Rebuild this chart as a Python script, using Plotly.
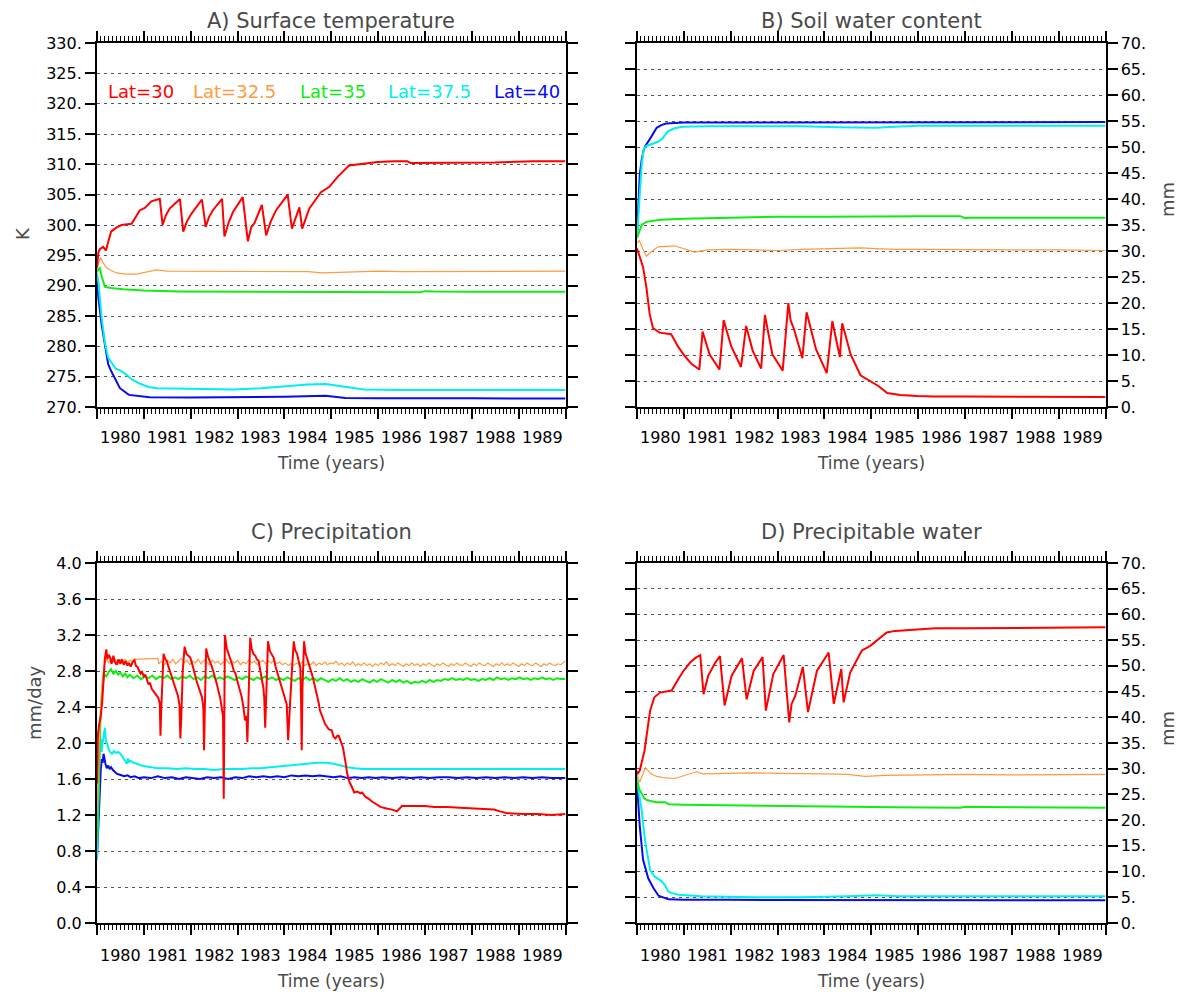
import plotly.graph_objects as go

FONT = "DejaVu Sans"

# ---------------- labels / styling lists ----------------
years = list(range(1980, 1990))
lat_labels = ["Lat=30", "Lat=32.5", "Lat=35", "Lat=37.5", "Lat=40"]
line_colors = ["#ff0000", "#ff9a40", "#10ee10", "#00f0f0", "#0a0aee"]
line_widths = [2.0, 1.2, 2.0, 2.0, 2.0]

titles = ["A) Surface temperature", "B) Soil water content", "C) Precipitation", "D) Precipitable water"]
ytitles = ["K", "mm", "mm/day", "mm"]

tick_A = list(range(270, 331, 5))
tick_A_text = [f"{v}." for v in tick_A]
tick_BD = list(range(0, 71, 5))
tick_BD_text = [f"{v}." for v in tick_BD]
tick_C = [0.0, 0.4, 0.8, 1.2, 1.6, 2.0, 2.4, 2.8, 3.2, 3.6, 4.0]
tick_C_text = ["0.0", "0.4", "0.8", "1.2", "1.6", "2.0", "2.4", "2.8", "3.2", "3.6", "4.0"]

# ---------------- A) Surface temperature (K) : (year, value) ----------------
tsfc_lat30 = [(1980.00, 293.0), (1980.03, 295.5), (1980.06, 296.0), (1980.13, 296.4), (1980.19, 295.8),
              (1980.25, 297.5), (1980.30, 298.9), (1980.42, 299.6), (1980.52, 300.0), (1980.74, 300.2),
              (1980.82, 301.3), (1980.91, 302.4), (1981.02, 302.8), (1981.16, 303.9), (1981.34, 304.3),
              (1981.40, 300.0), (1981.47, 301.6), (1981.55, 302.7), (1981.77, 304.3), (1981.84, 298.9),
              (1981.92, 300.6), (1982.01, 301.8), (1982.24, 304.2), (1982.32, 299.7), (1982.39, 301.3),
              (1982.47, 302.4), (1982.67, 304.3), (1982.72, 298.1), (1982.81, 300.4), (1982.90, 302.1),
              (1983.11, 304.6), (1983.22, 297.3), (1983.29, 299.6), (1983.36, 300.3), (1983.52, 303.3),
              (1983.61, 298.3), (1983.71, 300.6), (1983.82, 302.4), (1984.07, 305.0), (1984.16, 299.4),
              (1984.32, 302.9), (1984.38, 299.4), (1984.53, 302.7), (1984.78, 305.4), (1984.96, 306.3),
              (1985.13, 307.9), (1985.38, 309.8), (1985.63, 310.0), (1985.99, 310.4), (1986.34, 310.5),
              (1986.62, 310.5), (1986.70, 310.2), (1987.50, 310.2), (1988.50, 310.3), (1989.30, 310.5),
              (1990.00, 310.5)]
tsfc_lat32 = [(1980.00, 292.5), (1980.04, 294.0), (1980.08, 294.6), (1980.13, 293.8), (1980.20, 293.0),
              (1980.30, 292.5), (1980.42, 292.1), (1980.60, 291.9), (1980.84, 291.9), (1981.00, 292.2),
              (1981.27, 292.6), (1981.50, 292.4), (1982.00, 292.4), (1982.50, 292.3), (1983.00, 292.4),
              (1983.50, 292.3), (1984.00, 292.4), (1984.50, 292.3), (1984.81, 292.1), (1985.10, 292.2),
              (1985.50, 292.3), (1986.00, 292.4), (1986.50, 292.3), (1987.00, 292.3), (1987.50, 292.4),
              (1988.00, 292.3), (1988.50, 292.4), (1989.00, 292.4), (1989.50, 292.4), (1990.00, 292.4)]
tsfc_lat35 = [(1980.00, 292.2), (1980.03, 292.7), (1980.06, 292.9), (1980.10, 291.5), (1980.17, 289.8),
              (1980.30, 289.6), (1980.56, 289.4), (1981.00, 289.2), (1981.77, 289.05), (1983.00, 289.0),
              (1984.00, 289.0), (1985.00, 288.95), (1986.00, 288.95), (1986.90, 288.9), (1987.00, 289.1),
              (1987.20, 289.05), (1988.00, 289.0), (1989.00, 289.0), (1990.00, 289.0)]
tsfc_lat37 = [(1980.00, 292.0), (1980.03, 290.6), (1980.10, 284.7), (1980.17, 280.5), (1980.24, 278.1),
              (1980.31, 277.4), (1980.40, 276.3), (1980.50, 276.0), (1980.60, 275.5), (1980.75, 274.5),
              (1980.90, 273.9), (1981.10, 273.3), (1981.27, 273.1), (1982.00, 273.0), (1982.90, 272.9),
              (1983.50, 273.1), (1984.00, 273.4), (1984.50, 273.7), (1984.88, 273.8), (1985.20, 273.4),
              (1985.70, 272.9), (1986.50, 272.8), (1987.50, 272.8), (1988.50, 272.8), (1990.00, 272.8)]
tsfc_lat40 = [(1980.00, 291.5), (1980.03, 288.0), (1980.10, 283.5), (1980.17, 279.9), (1980.24, 277.0),
              (1980.31, 275.8), (1980.40, 274.5), (1980.49, 273.1), (1980.68, 272.0), (1981.12, 271.6),
              (1982.00, 271.55), (1983.00, 271.6), (1984.00, 271.7), (1984.88, 271.85), (1985.30, 271.5),
              (1986.00, 271.45), (1987.00, 271.5), (1988.00, 271.45), (1989.00, 271.4), (1990.00, 271.4)]

# ---------------- B) Soil water content (mm) ----------------
soilw_lat30 = [(1980.00, 30.5), (1980.04, 29.5), (1980.13, 26.9), (1980.20, 23.0), (1980.27, 17.9),
               (1980.34, 15.2), (1980.48, 14.3), (1980.73, 14.0), (1980.87, 11.7), (1981.01, 9.9),
               (1981.16, 8.3), (1981.33, 7.2), (1981.40, 14.5), (1981.55, 10.1), (1981.76, 7.2),
               (1981.85, 16.7), (1982.01, 11.7), (1982.22, 7.7), (1982.33, 15.6), (1982.47, 10.8),
               (1982.65, 7.4), (1982.73, 17.7), (1982.89, 10.1), (1983.11, 7.0), (1983.23, 20.0),
               (1983.28, 16.6), (1983.35, 15.0), (1983.53, 9.4), (1983.62, 18.2), (1983.82, 11.1),
               (1984.05, 6.5), (1984.17, 16.5), (1984.24, 13.4), (1984.33, 9.6), (1984.38, 16.1),
               (1984.56, 10.1), (1984.77, 6.1), (1984.99, 5.0), (1985.16, 4.0), (1985.34, 2.7),
               (1985.62, 2.3), (1985.98, 2.1), (1986.33, 2.0), (1987.00, 2.0), (1988.00, 1.95),
               (1989.00, 1.9), (1990.00, 1.9)]
soilw_lat32 = [(1980.00, 31.5), (1980.05, 32.0), (1980.12, 30.5), (1980.20, 29.0), (1980.30, 29.8),
               (1980.45, 30.8), (1980.80, 31.0), (1981.00, 30.5), (1981.23, 29.8), (1981.50, 30.2),
               (1982.00, 30.3), (1982.50, 30.2), (1983.00, 30.1), (1983.50, 30.3), (1984.00, 30.4),
               (1984.50, 30.5), (1984.77, 30.6), (1985.20, 30.4), (1985.50, 30.3), (1986.00, 30.3),
               (1987.00, 30.3), (1988.00, 30.2), (1989.00, 30.2), (1990.00, 30.1)]
soilw_lat35 = [(1980.00, 32.5), (1980.05, 34.0), (1980.10, 35.0), (1980.20, 35.6), (1980.50, 36.0),
               (1981.00, 36.2), (1981.50, 36.3), (1982.00, 36.4), (1983.00, 36.6), (1984.00, 36.6),
               (1985.00, 36.7), (1986.00, 36.7), (1986.90, 36.7), (1987.00, 36.3), (1987.10, 36.4),
               (1988.00, 36.4), (1989.00, 36.4), (1990.00, 36.4)]
soilw_lat37 = [(1980.00, 32.5), (1980.03, 36.0), (1980.06, 41.0), (1980.10, 46.5), (1980.14, 49.5),
               (1980.20, 50.2), (1980.34, 50.6), (1980.45, 51.0), (1980.54, 51.6), (1980.60, 52.4),
               (1980.66, 53.0), (1980.80, 53.6), (1980.98, 53.9), (1981.50, 54.0), (1982.50, 54.0),
               (1983.50, 54.0), (1984.30, 53.8), (1984.80, 53.7), (1985.10, 53.7), (1985.50, 53.9),
               (1986.00, 54.1), (1987.00, 54.1), (1988.00, 54.1), (1989.00, 54.1), (1990.00, 54.1)]
soilw_lat40 = [(1980.00, 33.0), (1980.02, 37.0), (1980.04, 41.5), (1980.06, 44.8), (1980.10, 47.5),
               (1980.14, 49.3), (1980.18, 50.2), (1980.24, 51.0), (1980.30, 51.9), (1980.42, 53.7),
               (1980.52, 54.2), (1980.62, 54.5), (1980.80, 54.6), (1981.00, 54.7), (1982.00, 54.7),
               (1984.00, 54.7), (1986.00, 54.8), (1988.00, 54.8), (1990.00, 54.8)]

# ---------------- C) Precipitation (mm/day) ----------------
prec_lat30 = [(1980.00, 1.55), (1980.02, 2.10), (1980.05, 2.22), (1980.08, 2.30), (1980.11, 2.45),
              (1980.14, 2.70), (1980.17, 2.95), (1980.20, 3.04), (1980.22, 2.93), (1980.25, 2.98),
              (1980.28, 2.95), (1980.31, 2.88), (1980.35, 2.97), (1980.38, 2.90), (1980.42, 2.87),
              (1980.46, 2.93), (1980.50, 2.88), (1980.53, 2.93), (1980.57, 2.87), (1980.61, 2.91),
              (1980.65, 2.86), (1980.68, 2.89), (1980.72, 2.85), (1980.76, 2.90), (1980.80, 2.92),
              (1980.83, 2.86), (1980.87, 2.84), (1980.90, 2.80), (1980.93, 2.77), (1980.96, 2.79),
              (1981.00, 2.74), (1981.03, 2.76), (1981.06, 2.70), (1981.10, 2.65), (1981.13, 2.67),
              (1981.17, 2.60), (1981.20, 2.58), (1981.24, 2.55), (1981.28, 2.51), (1981.31, 2.50),
              (1981.34, 2.44), (1981.355, 2.08), (1981.37, 2.35), (1981.39, 2.65), (1981.42, 2.99),
              (1981.46, 2.93), (1981.49, 2.91), (1981.53, 2.84), (1981.57, 2.78), (1981.60, 2.73),
              (1981.64, 2.66), (1981.67, 2.62), (1981.70, 2.58), (1981.73, 2.52), (1981.76, 2.42),
              (1981.78, 2.05), (1981.80, 2.30), (1981.83, 2.80), (1981.87, 3.07), (1981.91, 2.99),
              (1981.95, 2.97), (1981.99, 2.95), (1982.03, 2.88), (1982.06, 2.83), (1982.09, 2.76),
              (1982.13, 2.68), (1982.17, 2.62), (1982.20, 2.58), (1982.24, 2.51), (1982.27, 2.40),
              (1982.285, 1.92), (1982.30, 2.35), (1982.33, 3.05), (1982.37, 2.96), (1982.41, 2.91),
              (1982.45, 2.85), (1982.48, 2.80), (1982.52, 2.73), (1982.56, 2.65), (1982.60, 2.56),
              (1982.63, 2.50), (1982.66, 2.40), (1982.69, 2.30), (1982.705, 1.38), (1982.72, 2.40),
              (1982.73, 3.20), (1982.77, 3.05), (1982.81, 2.99), (1982.85, 2.92), (1982.88, 2.88),
              (1982.92, 2.80), (1982.95, 2.78), (1982.99, 2.70), (1983.03, 2.62), (1983.06, 2.58),
              (1983.09, 2.51), (1983.13, 2.38), (1983.16, 2.25), (1983.19, 2.30), (1983.21, 2.01),
              (1983.23, 2.40), (1983.27, 3.17), (1983.30, 3.05), (1983.34, 2.99), (1983.38, 2.97),
              (1983.41, 2.93), (1983.45, 2.91), (1983.48, 2.80), (1983.52, 2.70), (1983.55, 2.62),
              (1983.57, 2.50), (1983.59, 2.17), (1983.61, 2.45), (1983.65, 3.13), (1983.69, 3.02),
              (1983.73, 2.98), (1983.77, 2.95), (1983.81, 2.85), (1983.84, 2.80), (1983.88, 2.74),
              (1983.91, 2.69), (1983.95, 2.60), (1983.98, 2.55), (1984.02, 2.48), (1984.05, 2.43),
              (1984.08, 2.03), (1984.10, 2.30), (1984.12, 2.43), (1984.16, 2.80), (1984.20, 3.13),
              (1984.23, 3.03), (1984.27, 2.99), (1984.30, 2.92), (1984.34, 2.84), (1984.355, 2.50),
              (1984.37, 1.92), (1984.385, 2.60), (1984.42, 3.13), (1984.45, 3.00), (1984.48, 2.95),
              (1984.51, 2.91), (1984.55, 2.85), (1984.59, 2.76), (1984.62, 2.70), (1984.66, 2.62),
              (1984.70, 2.52), (1984.73, 2.45), (1984.76, 2.36), (1984.80, 2.30), (1984.84, 2.25),
              (1984.87, 2.21), (1984.91, 2.18), (1984.95, 2.15), (1985.01, 2.14), (1985.05, 2.07),
              (1985.09, 2.05), (1985.13, 2.08), (1985.16, 2.08), (1985.20, 2.03), (1985.25, 1.95),
              (1985.30, 1.80), (1985.34, 1.66), (1985.38, 1.58), (1985.41, 1.55), (1985.45, 1.50),
              (1985.49, 1.45), (1985.56, 1.46), (1985.62, 1.44), (1985.66, 1.45), (1985.73, 1.40),
              (1985.80, 1.38), (1985.87, 1.35), (1985.94, 1.33), (1986.05, 1.29), (1986.20, 1.27),
              (1986.30, 1.26), (1986.40, 1.24), (1986.46, 1.27), (1986.51, 1.30), (1986.60, 1.30),
              (1986.76, 1.30), (1987.00, 1.30), (1987.20, 1.29), (1987.47, 1.29), (1987.75, 1.28),
              (1988.04, 1.27), (1988.25, 1.27), (1988.47, 1.26), (1988.60, 1.24), (1988.75, 1.22),
              (1989.11, 1.21), (1989.40, 1.21), (1989.70, 1.20), (1990.00, 1.21)]
prec_lat32 = [(1980.00, 1.20), (1980.04, 1.90), (1980.08, 2.45), (1980.12, 2.75), (1980.16, 2.88),
              (1980.20, 2.93), (1980.25, 2.89), (1980.30, 2.94), (1980.35, 2.90), (1980.40, 2.92),
              (1980.45, 2.88), (1980.50, 2.92), (1980.55, 2.90), (1980.60, 2.93), (1980.65, 2.89),
              (1980.70, 2.92), (1980.75, 2.91), (1980.80, 2.93), (1981.30, 2.94), (1981.32, 2.88),
              (1981.38, 2.91), (1981.44, 2.87), (1981.50, 2.92), (1981.56, 2.89), (1981.62, 2.93),
              (1981.68, 2.88), (1981.74, 2.91), (1981.80, 2.94), (1981.86, 2.89), (1981.92, 2.92),
              (1981.98, 2.87), (1982.04, 2.91), (1982.10, 2.89), (1982.16, 2.93), (1982.22, 2.88),
              (1982.28, 2.92), (1982.34, 2.90), (1982.40, 2.87), (1982.46, 2.92), (1982.52, 2.89),
              (1982.58, 2.91), (1982.64, 2.87), (1982.70, 2.90), (1982.76, 2.93), (1982.82, 2.88),
              (1982.88, 2.91), (1982.94, 2.89), (1983.00, 2.92), (1983.06, 2.87), (1983.12, 2.90),
              (1983.18, 2.88), (1983.24, 2.92), (1983.30, 2.89), (1983.36, 2.91), (1983.42, 2.87),
              (1983.48, 2.90), (1983.54, 2.92), (1983.60, 2.88), (1983.66, 2.91), (1983.72, 2.89),
              (1983.78, 2.92), (1983.84, 2.88), (1983.90, 2.90), (1983.96, 2.87), (1984.02, 2.89),
              (1984.08, 2.86), (1984.14, 2.88), (1984.20, 2.86), (1984.26, 2.89), (1984.32, 2.87),
              (1984.38, 2.90), (1984.44, 2.86), (1984.50, 2.88), (1984.56, 2.87), (1984.62, 2.90),
              (1984.68, 2.86), (1984.74, 2.89), (1984.80, 2.87), (1984.86, 2.90), (1984.92, 2.87),
              (1984.98, 2.89), (1985.04, 2.88), (1985.10, 2.91), (1985.16, 2.87), (1985.22, 2.89),
              (1985.28, 2.86), (1985.34, 2.89), (1985.40, 2.87), (1985.46, 2.90), (1985.52, 2.86),
              (1985.58, 2.88), (1985.64, 2.86), (1985.70, 2.89), (1985.76, 2.86), (1985.82, 2.88),
              (1985.88, 2.85), (1985.94, 2.88), (1986.00, 2.86), (1986.06, 2.89), (1986.12, 2.87),
              (1986.18, 2.90), (1986.24, 2.86), (1986.30, 2.88), (1986.36, 2.86), (1986.42, 2.89),
              (1986.48, 2.87), (1986.54, 2.85), (1986.60, 2.88), (1986.66, 2.86), (1986.72, 2.89),
              (1986.78, 2.86), (1986.84, 2.88), (1986.90, 2.85), (1986.96, 2.88), (1987.02, 2.86),
              (1987.08, 2.89), (1987.14, 2.87), (1987.20, 2.85), (1987.26, 2.88), (1987.32, 2.86),
              (1987.38, 2.89), (1987.44, 2.87), (1987.50, 2.85), (1987.56, 2.88), (1987.62, 2.86),
              (1987.68, 2.89), (1987.74, 2.87), (1987.80, 2.86), (1987.86, 2.89), (1987.92, 2.87),
              (1987.98, 2.85), (1988.04, 2.88), (1988.10, 2.86), (1988.16, 2.89), (1988.22, 2.87),
              (1988.28, 2.86), (1988.34, 2.89), (1988.40, 2.87), (1988.46, 2.85), (1988.52, 2.88),
              (1988.58, 2.86), (1988.64, 2.89), (1988.70, 2.86), (1988.76, 2.88), (1988.82, 2.86),
              (1988.88, 2.89), (1988.94, 2.87), (1989.00, 2.85), (1989.06, 2.88), (1989.12, 2.86),
              (1989.18, 2.89), (1989.24, 2.87), (1989.30, 2.86), (1989.36, 2.89), (1989.42, 2.87),
              (1989.48, 2.85), (1989.54, 2.88), (1989.60, 2.86), (1989.66, 2.89), (1989.72, 2.87),
              (1989.78, 2.86), (1989.84, 2.88), (1989.90, 2.87), (1989.96, 2.89), (1990.00, 2.91)]
prec_lat35 = [(1980.00, 0.95), (1980.04, 1.70), (1980.08, 2.35), (1980.12, 2.65), (1980.16, 2.76),
              (1980.20, 2.74), (1980.25, 2.79), (1980.30, 2.82), (1980.35, 2.77), (1980.40, 2.80),
              (1980.45, 2.76), (1980.50, 2.78), (1980.55, 2.74), (1980.60, 2.77), (1980.65, 2.73),
              (1980.70, 2.76), (1980.78, 2.72), (1980.86, 2.75), (1980.94, 2.71), (1981.02, 2.74),
              (1981.10, 2.72), (1981.18, 2.75), (1981.26, 2.71), (1981.34, 2.74), (1981.42, 2.72),
              (1981.50, 2.75), (1981.58, 2.71), (1981.66, 2.73), (1981.74, 2.71), (1981.82, 2.74),
              (1981.90, 2.72), (1981.98, 2.75), (1982.06, 2.71), (1982.14, 2.73), (1982.22, 2.70),
              (1982.30, 2.74), (1982.38, 2.72), (1982.46, 2.75), (1982.54, 2.71), (1982.62, 2.73),
              (1982.70, 2.71), (1982.78, 2.74), (1982.86, 2.72), (1982.94, 2.70), (1983.02, 2.73),
              (1983.10, 2.71), (1983.18, 2.74), (1983.26, 2.72), (1983.34, 2.70), (1983.42, 2.73),
              (1983.50, 2.71), (1983.58, 2.74), (1983.66, 2.71), (1983.74, 2.73), (1983.82, 2.70),
              (1983.90, 2.72), (1983.98, 2.70), (1984.06, 2.73), (1984.14, 2.71), (1984.22, 2.69),
              (1984.30, 2.72), (1984.38, 2.70), (1984.46, 2.73), (1984.54, 2.70), (1984.62, 2.72),
              (1984.70, 2.69), (1984.78, 2.72), (1984.86, 2.70), (1984.94, 2.68), (1985.02, 2.71),
              (1985.10, 2.69), (1985.18, 2.72), (1985.26, 2.69), (1985.34, 2.71), (1985.42, 2.68),
              (1985.50, 2.70), (1985.58, 2.68), (1985.66, 2.71), (1985.74, 2.69), (1985.82, 2.67),
              (1985.90, 2.70), (1985.98, 2.68), (1986.06, 2.71), (1986.14, 2.69), (1986.22, 2.67),
              (1986.30, 2.70), (1986.38, 2.68), (1986.46, 2.70), (1986.54, 2.67), (1986.62, 2.69),
              (1986.70, 2.66), (1986.78, 2.68), (1986.86, 2.67), (1986.94, 2.69), (1987.02, 2.67),
              (1987.10, 2.70), (1987.18, 2.68), (1987.26, 2.70), (1987.34, 2.69), (1987.42, 2.71),
              (1987.50, 2.70), (1987.58, 2.72), (1987.66, 2.70), (1987.74, 2.71), (1987.82, 2.70),
              (1987.90, 2.72), (1987.98, 2.70), (1988.06, 2.71), (1988.14, 2.69), (1988.22, 2.71),
              (1988.30, 2.70), (1988.38, 2.72), (1988.46, 2.70), (1988.54, 2.73), (1988.62, 2.71),
              (1988.70, 2.72), (1988.78, 2.70), (1988.86, 2.72), (1988.94, 2.71), (1989.02, 2.73),
              (1989.10, 2.71), (1989.18, 2.72), (1989.26, 2.70), (1989.34, 2.72), (1989.42, 2.71),
              (1989.50, 2.73), (1989.58, 2.71), (1989.66, 2.72), (1989.74, 2.70), (1989.82, 2.72),
              (1989.90, 2.71), (1990.00, 2.71)]
prec_lat37 = [(1980.00, 0.70), (1980.02, 1.10), (1980.04, 1.60), (1980.06, 1.95), (1980.08, 2.05),
              (1980.10, 1.90), (1980.12, 2.00), (1980.15, 2.10), (1980.17, 2.17), (1980.19, 2.02),
              (1980.22, 1.99), (1980.25, 1.93), (1980.28, 1.90), (1980.32, 1.88), (1980.36, 1.91),
              (1980.40, 1.89), (1980.45, 1.90), (1980.50, 1.88), (1980.55, 1.84), (1980.60, 1.80),
              (1980.64, 1.77), (1980.66, 1.83), (1980.68, 1.79), (1980.72, 1.80), (1980.78, 1.78),
              (1980.85, 1.77), (1980.95, 1.75), (1981.05, 1.74), (1981.15, 1.73), (1981.30, 1.72),
              (1981.50, 1.72), (1981.70, 1.71), (1981.90, 1.72), (1982.10, 1.71), (1982.30, 1.71),
              (1982.50, 1.70), (1982.70, 1.71), (1982.90, 1.71), (1983.10, 1.71), (1983.30, 1.72),
              (1983.50, 1.72), (1983.70, 1.73), (1983.90, 1.74), (1984.10, 1.75), (1984.30, 1.76),
              (1984.50, 1.77), (1984.70, 1.78), (1984.90, 1.78), (1985.05, 1.77), (1985.20, 1.75),
              (1985.35, 1.73), (1985.50, 1.72), (1985.70, 1.71), (1986.00, 1.71), (1986.50, 1.71),
              (1987.00, 1.71), (1987.50, 1.71), (1988.00, 1.71), (1988.50, 1.71), (1989.00, 1.71),
              (1989.50, 1.71), (1990.00, 1.71)]
prec_lat40 = [(1980.00, 0.72), (1980.02, 1.00), (1980.05, 1.45), (1980.08, 1.70), (1980.10, 1.82),
              (1980.12, 1.78), (1980.14, 1.88), (1980.16, 1.80), (1980.18, 1.77), (1980.21, 1.72),
              (1980.24, 1.75), (1980.27, 1.71), (1980.30, 1.73), (1980.34, 1.70), (1980.38, 1.68),
              (1980.42, 1.66), (1980.47, 1.65), (1980.52, 1.64), (1980.58, 1.63), (1980.65, 1.64),
              (1980.72, 1.62), (1980.80, 1.63), (1980.90, 1.61), (1981.00, 1.62), (1981.15, 1.61),
              (1981.30, 1.63), (1981.45, 1.61), (1981.60, 1.62), (1981.75, 1.60), (1981.90, 1.62),
              (1982.05, 1.61), (1982.20, 1.60), (1982.35, 1.62), (1982.50, 1.61), (1982.65, 1.62),
              (1982.80, 1.60), (1982.95, 1.62), (1983.10, 1.61), (1983.25, 1.63), (1983.40, 1.62),
              (1983.55, 1.63), (1983.70, 1.62), (1983.85, 1.63), (1984.00, 1.62), (1984.15, 1.64),
              (1984.30, 1.63), (1984.45, 1.64), (1984.60, 1.63), (1984.75, 1.64), (1984.90, 1.63),
              (1985.05, 1.62), (1985.20, 1.63), (1985.35, 1.61), (1985.50, 1.62), (1985.65, 1.61),
              (1985.80, 1.62), (1985.95, 1.61), (1986.10, 1.62), (1986.30, 1.61), (1986.50, 1.62),
              (1986.70, 1.61), (1986.90, 1.62), (1987.10, 1.61), (1987.30, 1.62), (1987.50, 1.62),
              (1987.70, 1.61), (1987.90, 1.62), (1988.10, 1.61), (1988.30, 1.62), (1988.50, 1.61),
              (1988.70, 1.62), (1988.90, 1.61), (1989.10, 1.62), (1989.30, 1.61), (1989.50, 1.62),
              (1989.70, 1.61), (1990.00, 1.61)]

# ---------------- D) Precipitable water (mm) ----------------
pw_lat30 = [(1980.00, 29.5), (1980.01, 29.0), (1980.06, 29.7), (1980.16, 33.5), (1980.28, 41.3),
            (1980.37, 43.9), (1980.49, 44.8), (1980.74, 45.2), (1980.88, 47.4), (1980.99, 49.0),
            (1981.13, 50.6), (1981.24, 51.5), (1981.35, 52.1), (1981.42, 44.5), (1981.52, 48.1),
            (1981.67, 50.6), (1981.77, 51.9), (1981.87, 42.3), (1982.02, 48.1), (1982.24, 51.5),
            (1982.34, 43.5), (1982.49, 49.0), (1982.68, 51.7), (1982.75, 41.3), (1982.91, 48.4),
            (1983.13, 52.1), (1983.25, 39.0), (1983.30, 42.6), (1983.38, 44.2), (1983.54, 49.8),
            (1983.65, 41.0), (1983.84, 49.0), (1984.09, 52.6), (1984.20, 42.6), (1984.36, 49.4),
            (1984.41, 42.9), (1984.55, 48.7), (1984.80, 53.0), (1984.98, 53.9), (1985.16, 55.3),
            (1985.33, 56.5), (1985.51, 56.8), (1986.01, 57.1), (1986.37, 57.3), (1987.00, 57.3),
            (1988.00, 57.4), (1989.00, 57.5), (1990.00, 57.5)]
pw_lat32 = [(1980.00, 29.0), (1980.06, 27.4), (1980.18, 30.2), (1980.30, 29.0), (1980.42, 28.5),
            (1980.60, 28.2), (1980.81, 28.1), (1981.00, 28.6), (1981.27, 29.4), (1981.40, 29.0),
            (1982.00, 29.1), (1982.50, 29.2), (1983.00, 29.1), (1983.50, 29.1), (1984.00, 29.0),
            (1984.50, 28.9), (1984.87, 28.5), (1985.30, 28.7), (1986.00, 28.8), (1987.00, 28.9),
            (1988.00, 28.8), (1989.00, 28.9), (1990.00, 28.9)]
pw_lat35 = [(1980.00, 27.7), (1980.05, 26.0), (1980.10, 25.2), (1980.15, 24.3), (1980.21, 23.9),
            (1980.40, 23.5), (1980.60, 23.5), (1980.67, 23.1), (1981.00, 23.0), (1981.74, 22.9),
            (1983.00, 22.7), (1984.23, 22.6), (1985.50, 22.5), (1986.90, 22.4), (1987.00, 22.6),
            (1988.00, 22.5), (1990.00, 22.4)]
pw_lat37 = [(1980.00, 28.4), (1980.03, 26.0), (1980.10, 21.9), (1980.17, 16.1), (1980.28, 10.3),
            (1980.38, 9.0), (1980.53, 8.1), (1980.60, 7.3), (1980.67, 6.1), (1980.75, 5.8),
            (1980.88, 5.5), (1981.38, 5.2), (1982.50, 5.0), (1983.50, 5.0), (1984.50, 5.2),
            (1985.08, 5.4), (1985.60, 5.2), (1986.50, 5.2), (1988.00, 5.2), (1990.00, 5.2)]
pw_lat40 = [(1980.00, 27.1), (1980.03, 23.0), (1980.06, 18.7), (1980.13, 12.3), (1980.24, 8.7),
            (1980.35, 6.8), (1980.46, 5.3), (1980.67, 4.6), (1981.00, 4.5), (1982.00, 4.5),
            (1984.00, 4.5), (1986.00, 4.4), (1988.00, 4.4), (1990.00, 4.4)]

panels = [
    [tsfc_lat30, tsfc_lat32, tsfc_lat35, tsfc_lat37, tsfc_lat40],
    [soilw_lat30, soilw_lat32, soilw_lat35, soilw_lat37, soilw_lat40],
    [prec_lat30, prec_lat32, prec_lat35, prec_lat37, prec_lat40],
    [pw_lat30, pw_lat32, pw_lat35, pw_lat37, pw_lat40],
]

# ---------------- layout geometry ----------------
# the page body has an 8px margin, so the figure is drawn 8px in from the window corner
OFF = 8
W, H = 1192 - OFF, 992 - OFF
def px(x):
    return (x - OFF) / W
def py(y):
    return 1 - (y - OFF) / H

xdom_left = [px(97), px(565.5)]
xdom_right = [px(637), px(1105.5)]
ydom_top = [py(407), py(43)]
ydom_bot = [py(923), py(563)]

fig = go.Figure()

axis_ids = ["", "2", "3", "4"]
draw_order = [4, 3, 2, 1, 0]
for p, series in enumerate(panels):
    ax = axis_ids[p]
    for i in draw_order:
        s = series[i]
        fig.add_trace(go.Scatter(
            x=[t for t, _ in s], y=[v for _, v in s],
            mode="lines", name=lat_labels[i],
            line=dict(color=line_colors[i], width=line_widths[i]),
            xaxis="x" + ax, yaxis="y" + ax, showlegend=False,
            hoverinfo="skip"))

def xaxis_cfg(domain, anchor):
    return dict(domain=domain, anchor=anchor, range=[1980, 1990], automargin=False,
                tickmode="linear", tick0=1980, dtick=1,
                ticks="outside", ticklen=10, tickwidth=1.5, tickcolor="black",
                showticklabels=False, showline=True, linewidth=2, linecolor="black",
                mirror="allticks", showgrid=False, zeroline=False,
                minor=dict(tickmode="linear", tick0=1980, dtick=1 / 12, ticks="outside",
                           ticklen=5, tickwidth=1.2, tickcolor="black", showgrid=False))

def yaxis_cfg(domain, anchor, vals, texts, rng, side):
    return dict(domain=domain, anchor=anchor, range=rng, automargin=False, tickmode="array",
                tickvals=vals, ticktext=texts, ticks="outside", ticklen=10,
                tickwidth=2, tickcolor="black", showline=True, linewidth=2,
                linecolor="black", mirror="ticks", showgrid=True, gridcolor="#555555",
                griddash="3px,4px", gridwidth=1, zeroline=False, side=side,
                tickfont=dict(family=FONT, size=16, color="black"))

fig.update_layout(
    width=W, height=H, margin=dict(l=0, r=0, t=0, b=0, autoexpand=False),
    paper_bgcolor="white", plot_bgcolor="white",
    font=dict(family=FONT, size=16, color="black"),
    xaxis=xaxis_cfg(xdom_left, "y"),
    xaxis2=xaxis_cfg(xdom_right, "y2"),
    xaxis3=xaxis_cfg(xdom_left, "y3"),
    xaxis4=xaxis_cfg(xdom_right, "y4"),
    yaxis=yaxis_cfg(ydom_top, "x", tick_A, tick_A_text, [270, 330], "left"),
    yaxis2=yaxis_cfg(ydom_top, "x2", tick_BD, tick_BD_text, [0, 70], "right"),
    yaxis3=yaxis_cfg(ydom_bot, "x3", tick_C, tick_C_text, [0, 4], "left"),
    yaxis4=yaxis_cfg(ydom_bot, "x4", tick_BD, tick_BD_text, [0, 70], "right"),
)

ann = []
gray = "#4a4a4a"
centers = [px((97 + 565.5) / 2), px((637 + 1105.5) / 2)]
title_y = [py(8.5), py(8.5), py(519), py(519)]
year_y = [py(437), py(437), py(955), py(955)]
tlab_y = [py(463), py(463), py(981), py(981)]
for p in range(4):
    cx = centers[p % 2]
    ann.append(dict(text=titles[p], x=cx, y=title_y[p], xref="paper", yref="paper",
                    showarrow=False, xanchor="center", yanchor="top", borderpad=0,
                    font=dict(family=FONT, size=21, color=gray)))
    ann.append(dict(text="Time (years)", x=cx, y=tlab_y[p], xref="paper", yref="paper",
                    showarrow=False, xanchor="center", yanchor="middle",
                    font=dict(family=FONT, size=17, color=gray)))
    xr = "x" + axis_ids[p]
    for yr in years:
        ann.append(dict(text=str(yr), x=yr + 0.5, y=year_y[p], xref=xr, yref="paper",
                        showarrow=False, xanchor="center", yanchor="middle",
                        font=dict(family=FONT, size=16, color="black")))

# y-axis titles
ann.append(dict(text=ytitles[0], x=px(10), y=py(225), xref="paper", yref="paper", showarrow=False,
                textangle=-90, font=dict(family=FONT, size=18, color=gray)))
ann.append(dict(text=ytitles[1], x=px(1180), y=py(180), xref="paper", yref="paper", showarrow=False,
                textangle=-90, font=dict(family=FONT, size=18, color=gray)))
ann.append(dict(text=ytitles[2], x=px(22), y=py(742), xref="paper", yref="paper", showarrow=False,
                textangle=-90, font=dict(family=FONT, size=18, color=gray)))
ann.append(dict(text=ytitles[3], x=px(1180), y=py(748), xref="paper", yref="paper", showarrow=False,
                textangle=-90, font=dict(family=FONT, size=18, color=gray)))

# legend texts inside panel A
legend_x = [141, 234, 333, 429, 527]
for i in range(5):
    ann.append(dict(text=lat_labels[i], x=px(legend_x[i]), y=py(92), xref="paper", yref="paper",
                    showarrow=False, xanchor="center", yanchor="middle",
                    font=dict(family=FONT, size=18, color=line_colors[i])))

fig.update_layout(annotations=ann)
fig.write_html("out.html")
